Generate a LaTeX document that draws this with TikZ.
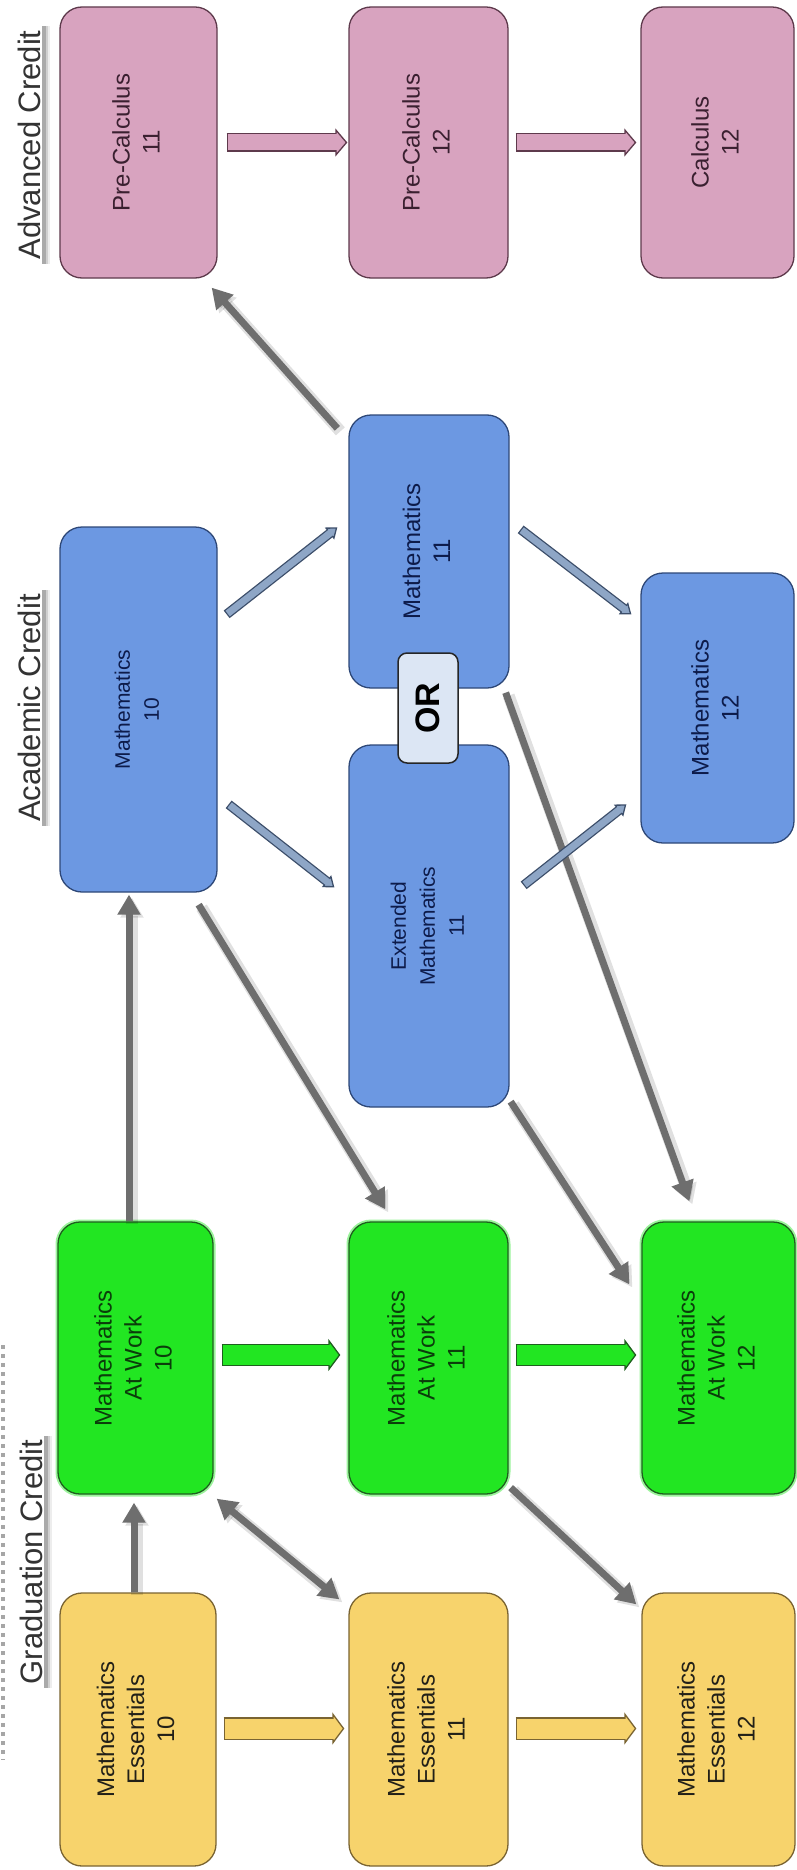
\documentclass[tikz,border=0pt]{standalone}
\usepackage{fontspec}
\setmainfont{Liberation Sans}
\usetikzlibrary{arrows.meta}
\definecolor{pinkf}{HTML}{D8A3BF}
\definecolor{pinko}{HTML}{5E3A4C}
\definecolor{pinkt}{HTML}{3A2030}
\definecolor{bluef}{HTML}{6C98E2}
\definecolor{blueo}{HTML}{2E4878}
\definecolor{bluet}{HTML}{0D1B4A}
\definecolor{greenf}{HTML}{22E622}
\definecolor{greeno}{HTML}{1F5F1F}
\definecolor{greent}{HTML}{0B3D0B}
\definecolor{yelf}{HTML}{F7D36C}
\definecolor{yelo}{HTML}{7A6432}
\definecolor{yelt}{HTML}{222018}
\definecolor{arrg}{HTML}{6E6E6E}
\definecolor{barrf}{HTML}{8EA6C6}
\definecolor{barro}{HTML}{3C4E6A}
\definecolor{orf}{HTML}{DCE6F4}
\definecolor{labt}{HTML}{333333}
\newcommand\rtx[1]{\rotatebox{90}{\begin{tabular}{@{}c@{}}#1\end{tabular}}}
% block arrow: from, to, fill, outline, shaft width, head width, head length
\newcommand\blk[7]{%
  \pgfmathsetmacro\blkow{#5+2.6}%
  \pgfmathsetmacro\blksh{#7-2.5}%
  \draw[line width=\blkow pt, draw=#4, -{Triangle[length=#7pt,width=#6pt,line width=1.3pt,fill=#3]}] (#1) -- (#2);
  \draw[line width=#5pt, draw=#3, shorten <=1.3pt, shorten >=\blksh pt] (#1) -- (#2);
}
\tikzset{gtip/.tip={Triangle[length=20pt,width=22pt]}}
\newcommand\garr[3][-gtip]{%
  \draw[gshadow,#1] (#2) -- (#3);
  \draw[garrow,#1] (#2) -- (#3);
}
\begin{document}
\begin{tikzpicture}[x=1pt,y=-1pt,
  box/.style={draw, rounded corners=22pt, line width=1.3pt, inner sep=0pt, align=center,
              font=\fontsize{24}{30}\selectfont},
  pinkbox/.style={box, fill=pinkf, draw=pinko, text=pinkt},
  bluebox/.style={box, fill=bluef, draw=blueo, text=bluet},
  greenbox/.style={box, fill=greenf, draw=greeno, text=greent,
                   preaction={draw=greenf!45, line width=5pt}},
  yelbox/.style={box, fill=yelf, draw=yelo, text=yelt},
  smalltext/.style={font=\fontsize{21}{29}\selectfont},
  orbox/.style={draw=black!85, fill=orf, rounded corners=9pt, line width=1.5pt, inner sep=0pt,
                font=\fontsize{34}{34}\selectfont\bfseries, text=black},
  lab/.style={fill=white, inner xsep=2pt, inner ysep=4pt, text=labt,
              font=\fontsize{31}{33}\selectfont,
              preaction={fill=black, opacity=0.07, transform canvas={xshift=8pt}},
              preaction={fill=black, opacity=0.12, transform canvas={xshift=6pt}},
              preaction={fill=black, opacity=0.18, transform canvas={xshift=4pt}}},
  garrow/.style={line width=7pt, arrg},
  gshadow/.style={line width=12pt, black, opacity=0.12, transform canvas={xshift=3pt,yshift=-3pt}},
]
\useasboundingbox (0,0) rectangle (796,1870);
\fill[white] (0,0) rectangle (796,1870);

% faint cut-off text at the left edge
\draw[black!35, line width=4pt, dash pattern=on 4pt off 5pt] (3,1345) -- (3,1760);

% labels
\node[lab] (advl) at (29,145) {\rotatebox{90}{Advanced Credit}};
\node[lab] (acadl) at (29,708) {\rotatebox{90}{Academic Credit}};
\node[lab] (gradl) at (31,1562) {\rotatebox{90}{Graduation Credit}};

% advanced credit row
\node[pinkbox, minimum width=157pt, minimum height=271pt] (pc11) at (138.5,142.5) {\rtx{Pre-Calculus\\11}};
\node[pinkbox, minimum width=159pt, minimum height=271pt] (pc12) at (428.5,142.5) {\rtx{Pre-Calculus\\12}};
\node[pinkbox, minimum width=153pt, minimum height=271pt] (c12) at (717.5,142.5) {\rtx{Calculus\\12}};

% academic credit
\node[bluebox, smalltext, minimum width=157pt, minimum height=365pt] (m10) at (138.5,709.5) {\rtx{Mathematics\\10}};
\node[bluebox, minimum width=160pt, minimum height=273pt] (m11) at (429,551.5) {\rtx{Mathematics\\11}};
\node[bluebox, smalltext, minimum width=160pt, minimum height=362pt] (em11) at (429,926) {\rtx{Extended\\Mathematics\\11}};
\node[bluebox, minimum width=153pt, minimum height=270pt] (m12) at (717.5,708) {\rtx{Mathematics\\12}};
\node[orbox, minimum width=60pt, minimum height=110pt] (orn) at (428,708) {\rotatebox{90}{OR}};

% graduation credit
\node[greenbox, minimum width=155pt, minimum height=272pt] (mw10) at (135.5,1358) {\rtx{Mathematics\\At Work\\10}};
\node[greenbox, minimum width=159pt, minimum height=272pt] (mw11) at (428.5,1358) {\rtx{Mathematics\\At Work\\11}};
\node[greenbox, minimum width=153pt, minimum height=272pt] (mw12) at (718.5,1358) {\rtx{Mathematics\\At Work\\12}};
\node[yelbox, minimum width=156pt, minimum height=273pt] (es10) at (138,1729.5) {\rtx{Mathematics\\Essentials\\10}};
\node[yelbox, minimum width=159pt, minimum height=273pt] (es11) at (428.5,1729.5) {\rtx{Mathematics\\Essentials\\11}};
\node[yelbox, minimum width=153pt, minimum height=273pt] (es12) at (718.5,1729.5) {\rtx{Mathematics\\Essentials\\12}};

% gray arrows
\garr{[shift={(-11,14)}]m11.north west}{[shift={(-6,9)}]pc11.south east}
\garr{[shift={(-6.5,0)}]mw10.north}{[shift={(-9.5,2)}]m10.south}
\garr{[shift={(-19,12)}]m10.south east}{[shift={(37,-12)}]mw11.north west}
\garr{[shift={(-4,4)}]m11.south east}{[shift={(48,-20)}]mw12.north west}
\garr{[shift={(1,-6)}]em11.south east}{[shift={(-12,63)}]mw12.north west}
\garr{[shift={(-4,0)}]es10.north}{[shift={(-1.5,8)}]mw10.south}
\garr[gtip-gtip]{[shift={(3,4)}]mw10.south east}{[shift={(-9,7)}]es11.north west}
\garr{[shift={(2,-7)}]mw11.south east}{[shift={(-5,12)}]es12.north west}

% blue diagonal block arrows
\blk{[shift={(9,88)}]m10.north east}{[shift={(-11,113)}]m11.north west}{barrf}{barro}{7}{15}{10}
\blk{[shift={(11,115)}]m11.north east}{[shift={(-9,42)}]m12.north west}{barrf}{barro}{7}{15}{10}
\blk{[shift={(11,278)}]m10.north east}{[shift={(-14,143)}]em11.north west}{barrf}{barro}{7}{15}{10}
\blk{[shift={(14,141)}]em11.north east}{[shift={(-14,232)}]m12.north west}{barrf}{barro}{7}{15}{10}

% horizontal block arrows
\blk{[shift={(9,0)}]pc11.east}{[shift={(-1,0)}]pc12.west}{pinkf}{pinko}{16}{28}{12}
\blk{[shift={(7,0)}]pc12.east}{[shift={(-4,0)}]c12.west}{pinkf}{pinko}{16}{28}{12}
\blk{[shift={(8,-3)}]mw10.east}{[shift={(-8,-3)}]mw11.west}{greenf}{greeno}{20}{32}{12}
\blk{[shift={(7,-3)}]mw11.east}{[shift={(-5,-3)}]mw12.west}{greenf}{greeno}{20}{32}{12}
\blk{[shift={(7,-1)}]es10.east}{[shift={(-4,-1)}]es11.west}{yelf}{yelo}{20}{32}{12}
\blk{[shift={(7,-1)}]es11.east}{[shift={(-5,-1)}]es12.west}{yelf}{yelo}{20}{32}{12}
\end{tikzpicture}
\end{document}
